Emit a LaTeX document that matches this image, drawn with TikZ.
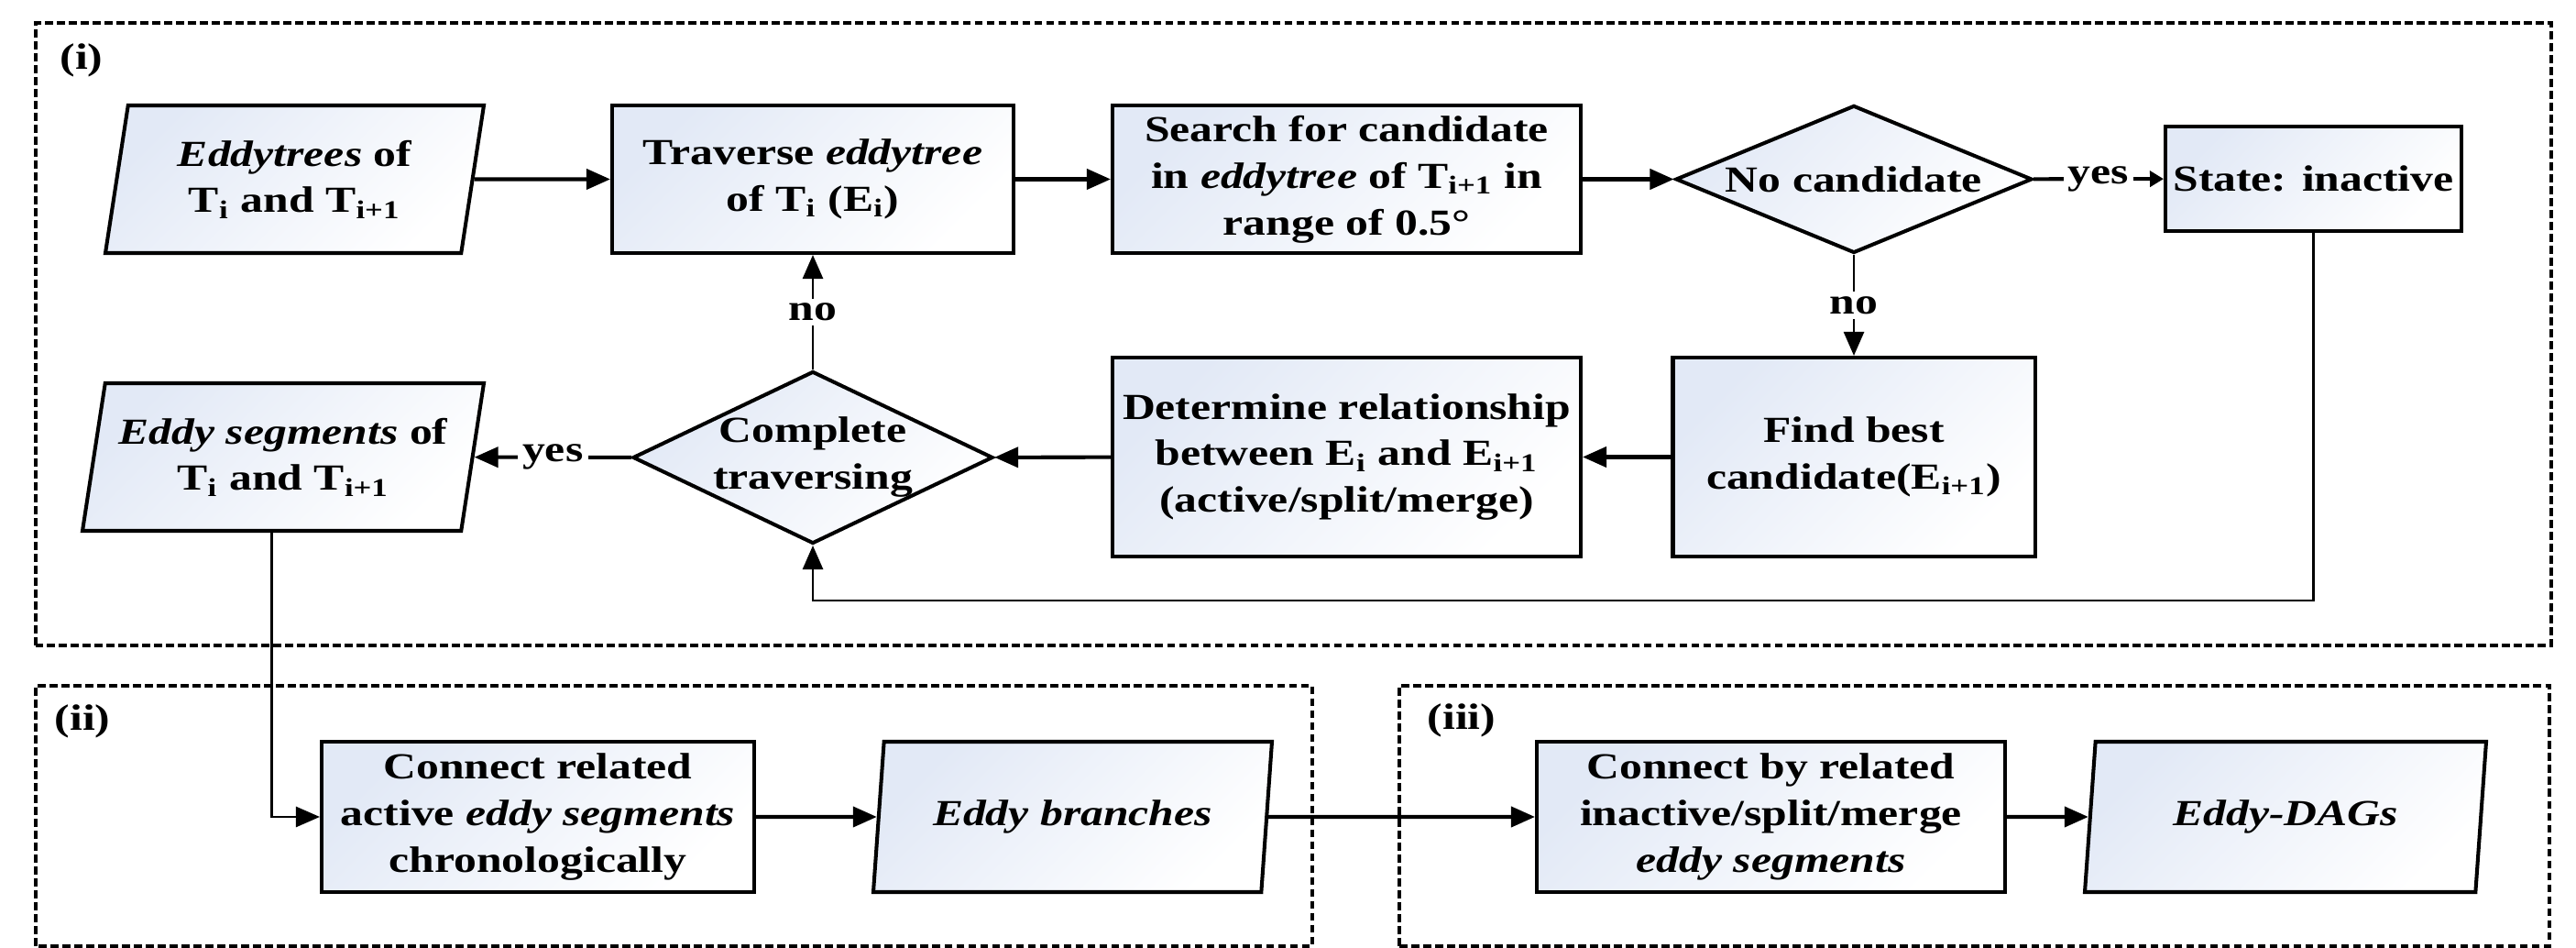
\documentclass[tikz,border=0pt]{standalone}
\usepackage{fontspec}
\setmainfont{Liberation Serif}[FakeStretch=1.24]
\usepackage{xcolor}
\usepackage{tikz}
\usetikzlibrary{arrows.meta, positioning, shapes.geometric}

\definecolor{boxfill}{RGB}{226,233,246}

\begin{document}
\begin{tikzpicture}[
      every node/.style={font=\fontsize{11.4}{14.5}\selectfont\bfseries, align=center},
      shadefill/.style={top color=boxfill, middle color=boxfill!20!white, bottom color=white, shading angle=45},
      proc/.style={rectangle, draw, line width=1.15pt, shadefill, inner sep=1pt},
      io/.style={trapezium, trapezium left angle=75, trapezium right angle=105, trapezium stretches body,
                 draw, line width=1.15pt, shadefill, inner sep=1pt},
      decision/.style={diamond, draw, line width=1.15pt, shadefill, inner sep=-1.5pt},
      flow/.style={-{Triangle[length=0.26cm, width=0.22cm]}, line width=1.15pt},
      thinflow/.style={-{Triangle[length=0.26cm, width=0.22cm]}, line width=0.75pt},
      smallflow/.style={-{Triangle[length=0.15cm, width=0.17cm]}, line width=1.15pt},
      lbl/.style={fill=white, inner sep=1.5pt},
      frame/.style={draw, line width=1pt, dash pattern=on 2.5pt off 1.2pt}
  ]
      \useasboundingbox (0,0) rectangle (28.11,10.34);

      % dashed frames of the three stages
      \draw[frame] (0.39,3.30) rectangle (27.84,10.09);
      \draw[frame] (0.39,0.02) rectangle (14.32,2.86);
      \draw[frame] (15.27,0.02) rectangle (27.82,2.86);
      \node (tagi) at (0.89,9.68) {(i)};
      \node (tagii) at (0.90,2.47) {(ii)};
      \node (tagiii) at (15.95,2.48) {(iii)};

      % stage (i), top row
      \node[io, minimum width=4.13cm, minimum height=1.61cm] (in1) at (3.215,8.385) {\textit{Eddytrees} of\\T\textsubscript{i} and T\textsubscript{i+1}};
      \node[proc, minimum width=4.38cm, minimum height=1.61cm] (trav) at (8.87,8.385) {Traverse \textit{eddytree}\\of T\textsubscript{i} (E\textsubscript{i})};
      \node[proc, minimum width=5.11cm, minimum height=1.61cm] (search) at (14.695,8.385) {Search for candidate\\in \textit{eddytree} of T\textsubscript{i+1} in\\range of 0.5°};
      \node[decision, aspect=2.42, minimum width=3.89cm, minimum height=1.61cm] (nocand) at (20.23,8.385) {No candidate};
      \node[proc, minimum width=3.23cm, minimum height=1.14cm] (state) at (25.245,8.39) {State: inactive};

      % stage (i), bottom row
      \node[io, minimum width=4.38cm, minimum height=1.61cm] (out1) at (3.09,5.355) {\textit{Eddy segments} of\\T\textsubscript{i} and T\textsubscript{i+1}};
      \node[decision, aspect=2.09, minimum width=3.93cm, minimum height=1.88cm] (done) at (8.87,5.35) {Complete\\traversing};
      \node[proc, minimum width=5.11cm, minimum height=2.17cm] (rel) at (14.695,5.355) {Determine relationship\\between E\textsubscript{i} and E\textsubscript{i+1}\\(active/split/merge)};
      \node[proc, minimum width=3.95cm, minimum height=2.17cm] (best) at (20.23,5.355) {Find best\\candidate(E\textsubscript{i+1})};
      \coordinate (loop) at (14.7,3.79);

      % stages (ii) and (iii)
      \node[proc, minimum width=4.72cm, minimum height=1.64cm] (conn) at (5.87,1.43) {Connect related\\active \textit{eddy segments}\\chronologically};
      \node[io, minimum width=4.35cm, minimum height=1.64cm] (branches) at (11.705,1.43) {\textit{Eddy branches}};
      \node[proc, minimum width=5.11cm, minimum height=1.64cm] (link) at (19.325,1.43) {Connect by related\\inactive/split/merge\\\textit{eddy segments}};
      \node[io, minimum width=4.38cm, minimum height=1.64cm] (dags) at (24.94,1.43) {\textit{Eddy-DAGs}};

      % connectors
      \draw[flow] (in1) -- (trav);
      \draw[flow] (trav) -- (search);
      \draw[flow] (search) -- (nocand);
      \draw[smallflow] (nocand) -- node[lbl] {yes} (state);
      \draw[thinflow] (nocand) -- node[lbl] {no} (best);
      \draw[flow] (best) -- (rel);
      \draw[flow] (rel) -- (done);
      \draw[flow] (done) -- node[lbl] {yes} (out1);
      \draw[thinflow] (done) -- node[lbl] {no} (trav);
      \draw[thinflow] (state) |- (loop) -| (done);
      \draw[thinflow] (out1.bottom side) |- (conn);
      \draw[flow] (conn) -- (branches);
      \draw[flow] (branches) -- (link);
      \draw[flow] (link) -- (dags);
  \end{tikzpicture}
\end{document}
